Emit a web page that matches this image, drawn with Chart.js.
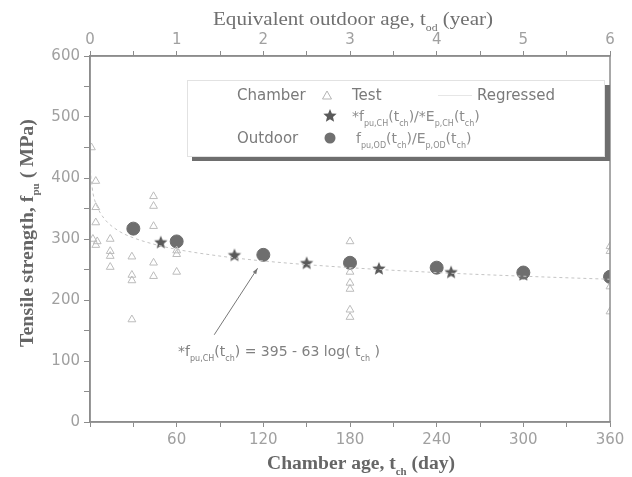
<!DOCTYPE html>
<html>
<head>
<meta charset="utf-8">
<script src="https://cdn.jsdelivr.net/npm/chart.js@4.4.0/dist/chart.umd.min.js"></script>
<style>
body{margin:0;background:#fff}
</style>
</head>
<body>
<canvas id="c" width="632" height="477"></canvas>
<script>
// chamber test results (open triangles)
var testDays = [1, 4, 4, 4, 2, 5, 4, 14, 14, 14, 14, 29, 29, 29, 29, 44, 44, 44, 44, 44, 60, 60, 60, 180, 180, 180, 180, 180, 180, 360, 360, 360, 360];
var testVals = [450, 395, 352, 327, 300, 296, 290, 300, 280, 272, 254, 271, 241, 232, 168, 370, 354, 321, 261, 239, 281, 275, 246, 296, 246, 228, 218, 184, 172, 288, 280, 222, 181];
// *f chamber (stars)
var chamberDays = [49, 100, 150, 200, 250, 300];
var chamberVals = [294, 273, 260, 251, 245, 241];
// outdoor (filled circles)
var outdoorDays = [30, 60, 120, 180, 240, 300, 360];
var outdoorVals = [317, 296, 274, 261, 253, 245, 238];
// regressed curve
var regDays = [0.05, 0.3, 1, 2, 5, 10, 20, 30, 45, 60, 90, 120, 180, 240, 300, 360];
var regVals = [522, 428, 395, 376, 353, 333, 313, 302, 291, 283, 272, 264, 253, 245, 239, 234];

var dayTicks = [0, 60, 120, 180, 240, 300, 360];
var yearTicks = [0, 1, 2, 3, 4, 5, 6];
var strengthTicks = [0, 100, 200, 300, 400, 500, 600];

function pts(xs, ys) {
  var out = [];
  for (let i = 0; i < xs.length; i++) out.push({x: xs[i], y: ys[i]});
  return out;
}

// filled five point star for the chamber points
function starImg(r, col) {
  var cv = document.createElement('canvas');
  cv.width = r * 2 + 2; cv.height = r * 2 + 2;
  var g = cv.getContext('2d');
  g.fillStyle = col;
  g.beginPath();
  for (let i = 0; i < 10; i++) {
    var rr = i % 2 == 0 ? r : r * 0.45;
    var a = -Math.PI / 2 + i * Math.PI / 5;
    var px = r + 1 + rr * Math.cos(a), py = r + 1 + rr * Math.sin(a);
    if (i == 0) g.moveTo(px, py); else g.lineTo(px, py);
  }
  g.closePath();
  g.fill();
  return cv;
}
var star = starImg(7, '#5a5a5a');

var tickCol = '#a0a0a0';
var axisCol = '#8c8c8c';
var tickFont = {family: 'DejaVu Sans', size: 15};

// text with subscripts: parts = [[text, isSub], ...]; width = stretch to this width
function rich(ctx, parts, x, y, size, fam, weight, align, width) {
  var w = 0;
  parts.forEach(p => {
    ctx.font = weight + ' ' + (p[1] ? Math.round(size * 0.55) : size) + 'px ' + fam;
    w += ctx.measureText(p[0]).width;
  });
  var k = width ? width / w : 1;
  ctx.save();
  ctx.translate(x, y);
  ctx.scale(k, 1);
  var cx = align == 'center' ? -w / 2 : 0;
  ctx.textAlign = 'left';
  ctx.textBaseline = 'alphabetic';
  parts.forEach(p => {
    ctx.font = weight + ' ' + (p[1] ? Math.round(size * 0.55) : size) + 'px ' + fam;
    ctx.fillText(p[0], cx, p[1] ? size * 0.35 : 0);
    cx += ctx.measureText(p[0]).width;
  });
  ctx.restore();
}

var extras = {
  id: 'extras',
  afterDraw(chart) {
    var ctx = chart.ctx, a = chart.chartArea;
    var sx = chart.scales.x, sy = chart.scales.y;
    ctx.save();
    // frame
    ctx.strokeStyle = axisCol;
    ctx.lineWidth = 1.5;
    ctx.strokeRect(a.left, a.top, a.right - a.left, a.bottom - a.top);

    // axis titles
    ctx.fillStyle = '#707070';
    rich(ctx, [['Equivalent outdoor age, t', 0], ['od', 1], [' (year)', 0]], 353, 25, 18, 'Liberation Serif', 'normal', 'center', 280);
    ctx.fillStyle = '#666';
    rich(ctx, [['Chamber age, t', 0], ['ch', 1], [' (day)', 0]], 361, 469, 18, 'Liberation Serif', 'bold', 'center', 188);
    ctx.save();
    ctx.translate(33, 233);
    ctx.rotate(-Math.PI / 2);
    rich(ctx, [['Tensile strength, f', 0], ['pu', 1], [' ( MPa)', 0]], 0, 0, 18, 'Liberation Serif', 'bold', 'center', 228);
    ctx.restore();

    // legend box with shadow
    ctx.fillStyle = '#6e6e6e';
    ctx.fillRect(192, 85, 418, 76);
    ctx.fillStyle = '#fff';
    ctx.fillRect(187, 80, 418, 77);
    ctx.strokeStyle = '#e2e2e2';
    ctx.lineWidth = 1;
    ctx.strokeRect(187.5, 80.5, 417, 76);

    ctx.fillStyle = '#7a7a7a';
    ctx.font = '15px DejaVu Sans';
    ctx.textBaseline = 'middle';
    ctx.fillText('Chamber', 237, 96);
    ctx.fillText('Outdoor', 237, 139);
    ctx.fillText('Test', 352, 96);
    ctx.fillText('Regressed', 477, 96);
    ctx.strokeStyle = '#e6e6e6';
    ctx.beginPath(); ctx.moveTo(438, 95.5); ctx.lineTo(472, 95.5); ctx.stroke();
    // triangle marker
    ctx.strokeStyle = '#b5b5b5';
    ctx.beginPath();
    ctx.moveTo(327, 91); ctx.lineTo(331.5, 99); ctx.lineTo(322.5, 99); ctx.closePath();
    ctx.stroke();
    ctx.drawImage(star, 330 - star.width / 2, 116 - star.height / 2);
    ctx.fillStyle = '#707070';
    ctx.beginPath(); ctx.arc(330, 138, 5.5, 0, Math.PI * 2); ctx.fill();

    ctx.fillStyle = '#8c8c8c';
    rich(ctx, [['*f', 0], ['pu,CH', 1], ['(t', 0], ['ch', 1], [')/*E', 0], ['p,CH', 1], ['(t', 0], ['ch', 1], [')', 0]], 352, 121, 14, 'DejaVu Sans', 'normal', 'left');
    rich(ctx, [['f', 0], ['pu,OD', 1], ['(t', 0], ['ch', 1], [')/E', 0], ['p,OD', 1], ['(t', 0], ['ch', 1], [')', 0]], 356, 143, 14, 'DejaVu Sans', 'normal', 'left');

    // regression note with arrow
    var x0 = sx.getPixelForValue(86), y0 = sy.getPixelForValue(143);
    var x1 = sx.getPixelForValue(116), y1 = sy.getPixelForValue(252);
    ctx.strokeStyle = '#777';
    ctx.lineWidth = 1;
    ctx.beginPath(); ctx.moveTo(x0, y0); ctx.lineTo(x1, y1); ctx.stroke();
    var ang = Math.atan2(y1 - y0, x1 - x0);
    ctx.fillStyle = '#777';
    ctx.beginPath();
    ctx.moveTo(x1, y1);
    ctx.lineTo(x1 - 6 * Math.cos(ang - 0.35), y1 - 6 * Math.sin(ang - 0.35));
    ctx.lineTo(x1 - 6 * Math.cos(ang + 0.35), y1 - 6 * Math.sin(ang + 0.35));
    ctx.closePath(); ctx.fill();
    ctx.fillStyle = '#808080';
    rich(ctx, [['*f', 0], ['pu,CH', 1], ['(t', 0], ['ch', 1], [') = 395 - 63 log( t', 0], ['ch', 1], [' )', 0]],
      sx.getPixelForValue(61), sy.getPixelForValue(108), 14, 'DejaVu Sans', 'normal', 'left');
    ctx.restore();
  }
};

new Chart(document.getElementById('c'), {
  type: 'scatter',
  data: {
    datasets: [{
      label: 'Regressed',
      type: 'line',
      data: pts(regDays, regVals),
      borderColor: '#c4c4c4',
      borderWidth: 1,
      borderDash: [3, 3],
      pointRadius: 0,
      cubicInterpolationMode: 'monotone',
      fill: false
    }, {
      label: 'Test',
      data: pts(testDays, testVals),
      pointStyle: 'triangle',
      pointRadius: 4.5,
      borderColor: '#bcbcbc',
      backgroundColor: 'rgba(255,255,255,0)',
      borderWidth: 1
    }, {
      label: 'Outdoor',
      data: pts(outdoorDays, outdoorVals),
      pointStyle: 'circle',
      pointRadius: 6.5,
      borderColor: '#6e6e6e',
      backgroundColor: '#6e6e6e'
    }, {
      label: 'Chamber',
      data: pts(chamberDays, chamberVals),
      pointStyle: star
    }]
  },
  options: {
    responsive: false,
    animation: false,
    devicePixelRatio: 1,
    layout: {padding: {left: 0, right: 22, top: 0, bottom: 0}},
    plugins: {legend: {display: false}, tooltip: {enabled: false}},
    scales: {
      x: {
        type: 'linear', position: 'bottom', min: 0, max: 360,
        afterFit(s) { s.height = 55; },
        ticks: {stepSize: 30, color: tickCol, font: tickFont, padding: 4, maxRotation: 0,
          callback: v => dayTicks.indexOf(v) >= 0 && v != 0 ? v : ''},
        grid: {drawOnChartArea: false, tickLength: 5, color: axisCol},
        border: {color: axisCol, width: 1.5}
      },
      x2: {
        type: 'linear', position: 'top', min: 0, max: 6,
        afterFit(s) { s.height = 56; },
        ticks: {stepSize: 0.5, color: tickCol, font: tickFont, padding: 2, maxRotation: 0,
          callback: v => yearTicks.indexOf(v) >= 0 ? v : ''},
        grid: {drawOnChartArea: false, tickLength: 5, color: axisCol},
        border: {color: axisCol, width: 1.5}
      },
      y: {
        min: 0, max: 600,
        afterFit(s) { s.width = 90; },
        ticks: {stepSize: 50, color: tickCol, font: tickFont, padding: 4,
          callback: v => strengthTicks.indexOf(v) >= 0 ? v : ''},
        grid: {drawOnChartArea: false, tickLength: 6, color: axisCol},
        border: {color: axisCol, width: 1.5}
      }
    }
  },
  plugins: [extras]
});
</script>
</body>
</html>
